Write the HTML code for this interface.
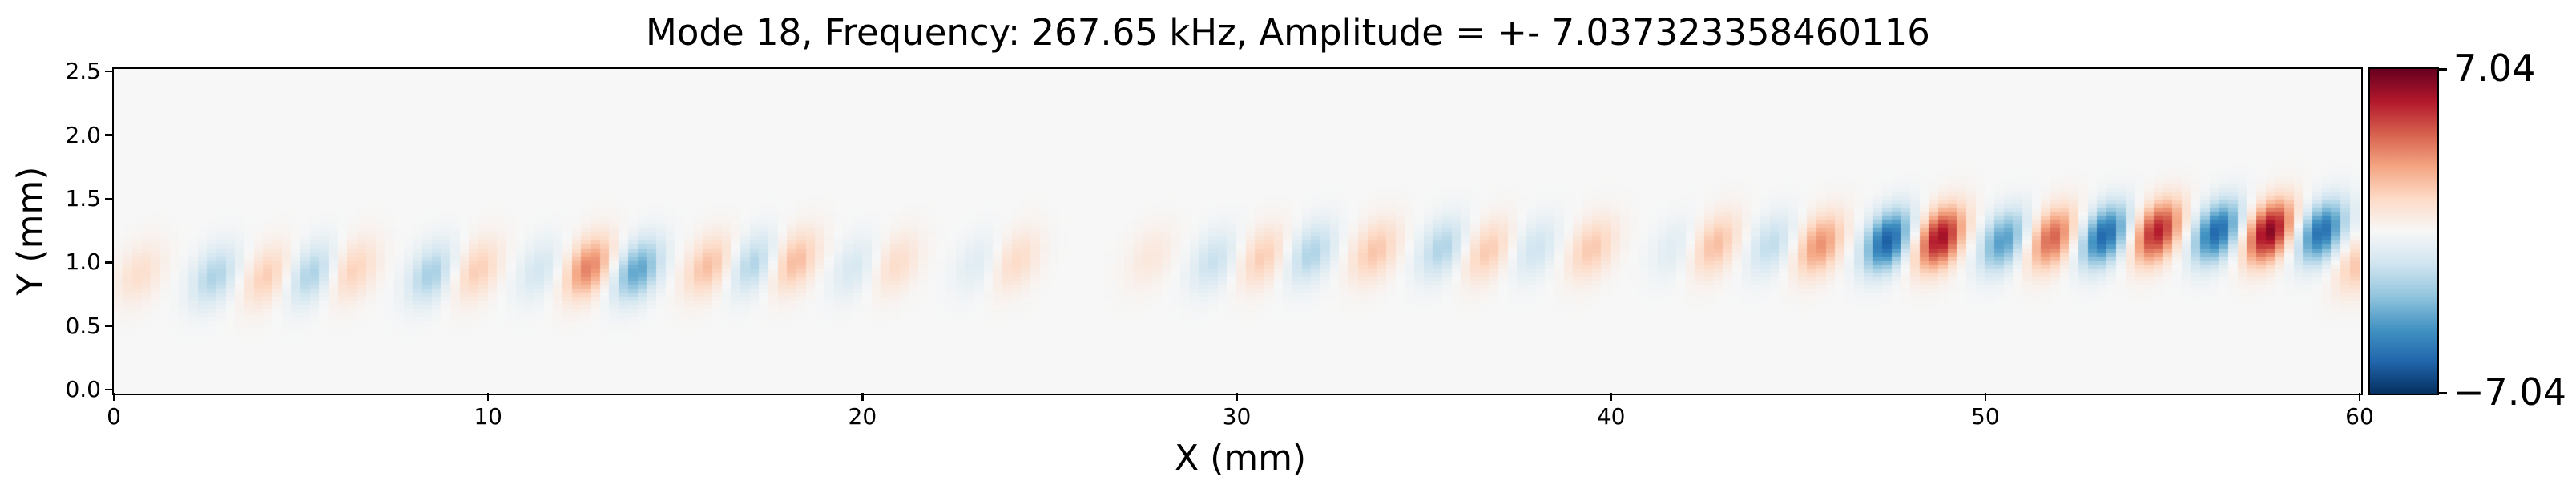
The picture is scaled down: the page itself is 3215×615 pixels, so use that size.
<!DOCTYPE html>
<html><head><meta charset="utf-8">
<style>
body{margin:0;background:#fff;width:3215px;height:615px;overflow:hidden;position:relative;font-family:"DejaVu Sans","Liberation Sans",sans-serif;}
.t{position:absolute;white-space:nowrap;color:#000;}
</style></head><body>
<div class="t" style="left:0;width:3215px;text-align:center;top:14px;font-size:45px;">Mode 18, Frequency: 267.65 kHz, Amplitude = +- 7.037323358460116</div>
<canvas id="hm" width="2804" height="405" style="position:absolute;left:142px;top:86px;"></canvas>
<div style="position:absolute;left:140px;top:84px;width:2805px;height:405px;border:2.5px solid #000;"></div>
<div id="ticks"></div>
<div class="t" style="left:1466px;top:546px;font-size:44px;">X (mm)</div>
<div class="t" style="left:38px;top:288px;font-size:44px;transform:translate(-50%,-50%) rotate(-90deg);">Y (mm)</div>
<div style="position:absolute;left:2956px;top:84px;width:84px;height:405px;border:2.5px solid #000;background:linear-gradient(to bottom,#67001f,#b2182b 10%,#d6604d 20%,#f4a582 30%,#fddbc7 40%,#f7f7f7 50%,#d1e5f0 60%,#92c5de 70%,#4393c3 80%,#2166ac 90%,#053061);"></div>
<div style="position:absolute;left:3043px;top:85px;width:11px;height:2.5px;background:#000"></div>
<div style="position:absolute;left:3043px;top:489px;width:11px;height:2.5px;background:#000"></div>
<div class="t" style="left:3062px;top:58px;font-size:46px;">7.04</div>
<div class="t" style="left:3062px;top:462px;font-size:46px;">−7.04</div>
<script>
const xTicks=[0,10,20,30,40,50,60];
const yTicks=[0.0,0.5,1.0,1.5,2.0,2.5];
const blobX=[0.7,2.7,4.1,5.3,6.4,8.5,9.7,11.4,12.7,14.0,15.9,17.1,18.2,19.8,20.9,23.1,24.1,27.7,29.4,30.7,32.0,33.7,35.5,36.7,38.0,39.5,41.7,42.8,44.3,45.6,47.4,48.8,50.5,51.8,53.2,54.6,56.2,57.6,59.0,60.0];
const blobY=[0.92,0.9,0.9,0.92,0.95,0.92,0.95,0.95,0.97,0.95,0.98,1.0,1.02,0.97,1.0,1.0,1.02,1.05,1.02,1.05,1.08,1.1,1.12,1.1,1.12,1.12,1.12,1.15,1.15,1.15,1.18,1.2,1.18,1.2,1.22,1.25,1.25,1.25,1.25,1.0];
const blobA=[1.2,-2.2,1.8,-2.3,1.7,-2.4,1.8,-1.3,3.6,-3.8,2.2,-2.2,2.3,-1.2,1.3,-0.9,1.4,0.8,-1.6,1.8,-2.2,2.0,-2.2,1.9,-1.4,1.9,-0.9,2.2,-1.8,3.2,-5.8,6.0,-4.0,4.2,-5.6,5.6,-5.6,6.5,-5.4,2.0];
const vmax=7.04, xmin=0, xmax=60, ymin=-0.025, ymax=2.52;
const L=142,R=2945,T=86,B=490;
function sx(v){return L+(v-xmin)/(xmax-xmin)*(R-L);}
function sy(v){return B-(v-ymin)/(ymax-ymin)*(B-T);}
const stops=[[5,48,97],[33,102,172],[67,147,195],[146,197,222],[209,229,240],[247,247,247],[253,219,199],[244,165,130],[214,96,77],[178,24,43],[103,0,31]];
function cmap(t){t=Math.max(0,Math.min(1,t))*10;const i=Math.min(9,Math.floor(t)),f=t-i,a=stops[i],b=stops[i+1];return 'rgb('+a.map((c,k)=>Math.round(c+(b[k]-c)*f)).join(',')+')';}
const cv=document.getElementById('hm'),ctx=cv.getContext('2d');
const NX=240,NY=80;
for(let i=0;i<NX;i++){for(let j=0;j<NY;j++){
 const x=xmin+(i+0.5)*(xmax-xmin)/NX, y=ymin+(j+0.5)*(ymax-ymin)/NY;
 let v=0;
 for(let k=0;k<blobX.length;k++){const dy=y-blobY[k];const dx=x-blobX[k]-1.0*dy;v+=blobA[k]*Math.exp(-(dx*dx)/(0.6*0.6)-(dy*dy)/(0.24*0.24));}
 ctx.fillStyle=cmap(0.5+v/(2*vmax));
 const x0=sx(xmin+i*(xmax-xmin)/NX)-L, x1=sx(xmin+(i+1)*(xmax-xmin)/NX)-L;
 const y0=sy(ymin+(j+1)*(ymax-ymin)/NY)-T, y1=sy(ymin+j*(ymax-ymin)/NY)-T;
 ctx.fillRect(Math.floor(x0),Math.floor(y0),Math.ceil(x1-x0)+1,Math.ceil(y1-y0)+1);
}}
const tk=document.getElementById('ticks');
xTicks.forEach(v=>{
 const m=document.createElement('div');
 
 
 m.style.cssText='position:absolute;width:2.5px;height:10px;background:#000;top:490px;left:'+(sx(v)-1.2)+'px';
 tk.appendChild(m);
 const l=document.createElement('div');
 
 
 l.className='t';l.textContent=String(v);
 l.style.cssText+='font-size:28px;top:503px;left:'+sx(v)+'px;transform:translateX(-50%)';
 tk.appendChild(l);
});
yTicks.forEach(v=>{
 const m=document.createElement('div');
 
 
 m.style.cssText='position:absolute;width:10px;height:2.5px;background:#000;left:131px;top:'+(sy(v)-1.2)+'px';
 tk.appendChild(m);
 const l=document.createElement('div');
 
 
 l.className='t';l.textContent=v.toFixed(1);
 l.style.cssText+='font-size:28px;right:'+(3215-126)+'px;top:'+(sy(v)-17)+'px';
 tk.appendChild(l);
});
</script>
</body></html>
